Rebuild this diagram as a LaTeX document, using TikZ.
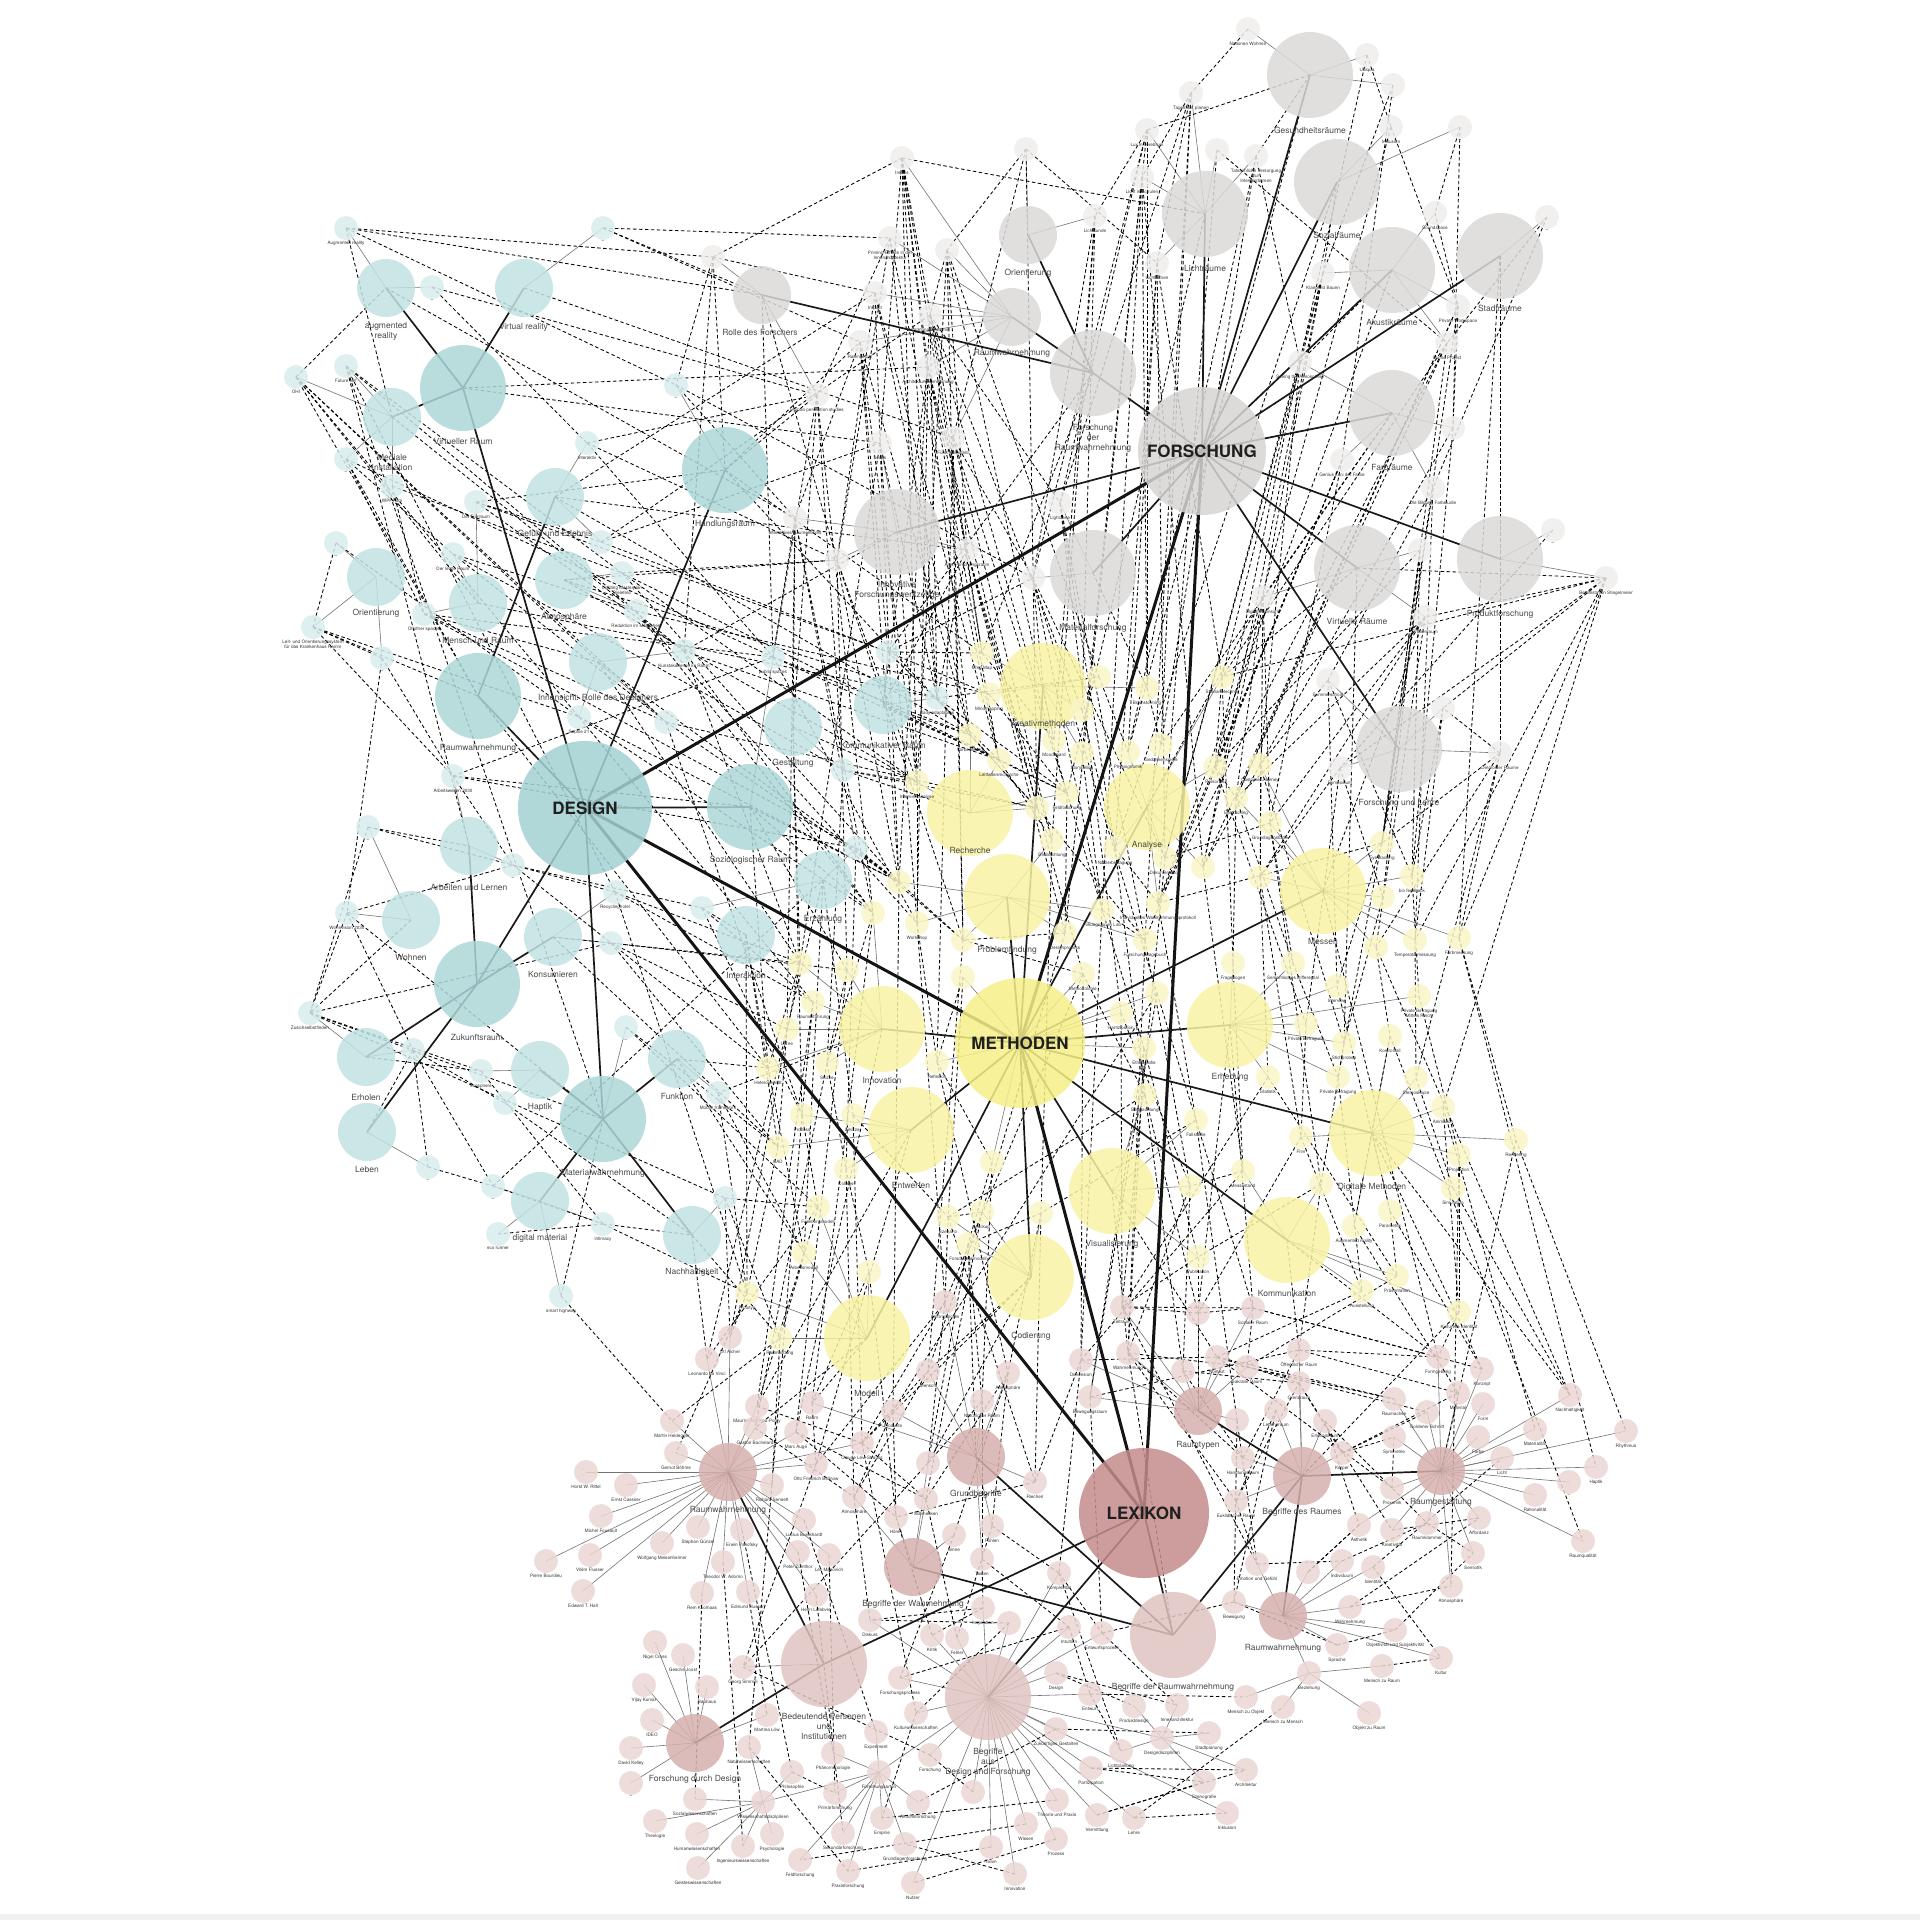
\documentclass[tikz,border=0pt]{standalone}
\usepackage{fontspec}
\setmainfont{TeX Gyre Heros}
\pgfdeclarelayer{paper}
\pgfdeclarelayer{bg}
\pgfsetlayers{paper,bg,main}
\definecolor{hubG}{HTML}{D8D5D4}
\definecolor{secG}{HTML}{DCDAD9}
\definecolor{smG}{HTML}{EFEEED}
\definecolor{hubT}{HTML}{A3D2D3}
\definecolor{secT}{HTML}{ADD7D8}
\definecolor{midT}{HTML}{C2E2E3}
\definecolor{smT}{HTML}{D9EDEE}
\definecolor{hubY}{HTML}{F6EF88}
\definecolor{secY}{HTML}{F8F3A4}
\definecolor{smY}{HTML}{FAF6C6}
\definecolor{hubP}{HTML}{C48D8B}
\definecolor{secP}{HTML}{D7B1AE}
\definecolor{bigP}{HTML}{E0C4C1}
\definecolor{smP}{HTML}{EBD6D4}
\definecolor{labgray}{HTML}{4A4A4A}
\tikzset{
  bub/.style={circle, inner sep=0pt, outer sep=0pt, draw=none, fill opacity=0.85},
  hubc/.style={bub, minimum size=#1},
  bigc/.style={bub, minimum size=86pt},
  midc/.style={bub, minimum size=58pt},
  lowc/.style={bub, minimum size=48pt},
  smc/.style={bub, minimum size=24pt},
  seclab/.style={font=\fontsize{8.5}{10}\selectfont, text=labgray, align=center, inner sep=0pt},
  smlab/.style={font=\fontsize{4.6}{5.4}\selectfont, text=black!80, align=center, inner sep=0.3pt, label distance=0.3pt},
  hublab/.style={font=\fontsize{17}{20}\selectfont\bfseries, text=black!88},
  dsh/.style={black, line width=0.85pt, dash pattern=on 3.5pt off 2.5pt},
  spoke/.style={black!55, line width=0.6pt},
  hubline/.style={black!92, line width=3pt},
  secline/.style={black!90, line width=1.7pt},
}
\def\greysmall{g1/1248/29/Nationen Wohnen/gGes, g2/1367/55/Ubiqua/gGes, g3/1393/85/–/gGes, g4/1391/127/Inklusion/gSoz, g5/1460/127/–/gSoz, g6/1256/156/Tatsächliche Versorgung\\zur\\Intensivräumen/gLic, g7/1217/150//gLic, g8/1435/213/Soundspace/gAku, g9/1547/217/–/gSta, g10/1323/273/Klangfeld Bauen/gAku, g11/1458/306/Private Workspace/gAku, g12/1447/343/Sound Project/gAku, g13/1300/362/Seeing the Atmosphere/gFar, g14/1453/428/–/gFar, g15/1342/460/Genius Loci der Farbe/gFar, g16/1191/93/Tageslicht planen/gLic, g17/1147/130/Lux in cerebrum/gLic, g18/1026/149//gOri, g19/1142/177/Licht in Schulen/gLic, g20/1095/216/Lichtkunde/gOri, g21/1157/263/Lichtfarben/gLic, g22/902/158/Impuls/gRaw, g23/890/238/Priming-Effekte in der\\Innenarchitektur/gRaw, g24/947/250//gRaw, g25/875/293/Impact/gRaw, g26/930/315/Ordnungssysteme/gRaw, g27/860/342/Raumgefühl/gRaw, g28/928/367/Architekturwahrnehmung/gRaw, g29/817/395/Human perception studies/gRol, g30/880/443/Loops/gInn, g31/953/438/Forschungsfeld/gRaw, g32/795/518/Interaktives Raumerlebnis/gInn, g33/837/560//gInn, g34/967/550/Aller Forschungsraum/gInn, g35/1060/503/Lightzone/gMat, g36/1033/578//gMat, g37/1433/488/Die Bildung Farbstudie/gFar, g38/1420/550//gVir, g39/1263/597/Digitale Sensorik/gVir, g40/1425/617/Probenraum/gVir, g41/1553/530/–/gPro, g42/1606/578/Bettenstation Stiegelmeier/gPro, g43/1328/680/Summerschool/gFuL, g44/1443/708/–/gFuL, g45/1500/753/Detmolder Räume/gFuL, g46/1340/768/Symposium/gFuL, g47/713/257//gRol}
\def\tealsmall{t1/346/228/Augmented reality/tAug, t2/603/228/–/tVR, t3/432/287/–/tAug, t4/296/377/OHI/tMed, t5/346/366/Future self/tMed, t6/346/459/–/tMed, t7/676/385/–/tHand, t8/587/443/Interaktiv/tGef, t9/392/486/WPF Film/tMed, t10/476/502/Der Fühlraum/tMen, t11/453/554/Der letzte Raum/tMen, t12/336/543/–/tOri, t13/601/542//tGef, t14/622/573/Lighting Masterplan\\Bielefeld/tAtm, t15/636/611/Reduktion im Möglichen/tAtm, t16/424/614/Of other spaces/tMen, t17/313/627/Leit- und Orientierungssystem\\für das Krankenhaus Hamm/tOri, t18/382/658/–/tOri, t19/684/651/Kunstakademie im Raum/tInn, t20/579/717/Sophie 21/tInn, t21/666/722//tInn, t22/453/776/Arbeitswelten 2030/tArb, t23/368/827/–/tWoh, t24/513/865/–/tArb, t25/615/892/Recyclinghotel/tKon, t26/347/913/Wohnvision 2030/tWoh, t27/611/943//tKon, t28/702/908//tX3, t29/310/1013/Zusichselbstfinden/tErh, t30/413/1050//tErh, t31/481/1071/ecosphere/tHap, t32/505/1103//tHap, t33/428/1167/–/tLeb, t34/626/1027/–/tMatw, t35/718/1093/Mobile framework/tFun, t36/493/1186/–/tDig, t37/498/1234/eco runner/tDig, t38/603/1224/intimacy/tDig, t39/561/1296/smart highway/tDig, t40/725/1198//tNach, t41/773/657/public spaces/tOef, t42/888/652//tX2, t43/937/698/Body adaptables/tX2, t44/843/770//tX1, t45/856/848//tX3}
\def\yellowsmall{y1/982/653/Mind Map/yKre, y2/1099/677//yKre, y3/1147/688/Brainstorming/yKre, y4/989/694/Mindmapping/yKre, y5/1082/710//yKre, y6/970/735/Vorbereitung/yRec, y7/1054/740/Moodboard/yKre, y8/1082/753/Storytelling/yKre, y9/999/760/Leitfadenrecherche/yRec, y10/1128/752/Physiognomik/yAna, y11/1161/745/Gedankenspiele/yAna, y12/1067/793/Feldforschung/yRec, y13/1037/808//yRec, y14/917/782/Interviewanalyse/yRec, y15/1052/840/Beobachtung/yPro, y16/1115/848/Nutzerbefragung/yAna, y17/1165/858/Dokumentation/yAna, y18/1203/867//yAna, y19/1102/910/Fokusgruppen Lab/yPro, y20/1065/933/Designprozess/yPro, y21/1158/903/Individuelles Wahrnehmungsprotokoll/yAna, y22/1145/940/Forschungstagebuch/yPro, y23/899/882//yPro, y24/873/913//yInn, y25/917/923/Workshop/yPro, y26/963/940//yPro, y27/1222/677/Szenariotechnik/yAna, y28/1260/765/Customer Journey/yMes, y29/1215/767/Personas/yAna, y30/1236/798/Eyetracking/yMes, y31/1270/823/Grundlagenstudie/yMes, y32/1260/877//yMes, y33/1382/843/Eye tracking/yMes, y34/1412/876/bio feedback/yMes, y35/1383/897//yMes, y36/1415/940/Temperaturmessung/yMes, y37/1459/938/Farbmessung/yMes, y38/1376/947//yMes, y39/1233/963/Fragebogen/yErh, y40/1293/963/Semantisches Differential/yErh, y41/1337/986/Interview/yErh, y42/1419/996/Private Befragung\\Mittels Reich/yErh, y43/1306/1024/Private Befragung/yErh, y44/1344/1043/Stichproben/yErh, y45/1390/1036/Kontrollfall/yDig, y46/1268/1077/Statistik/yErh, y47/1338/1077/Private Befragung/yErh, y48/1416/1078/Stereoskopie/yDig, y49/1443/1107/Animation/yDig, y50/1516/1140/Rendering/yDig, y51/1459/1155/Projektion/yDig, y52/1453/1188/Simulation/yDig, y53/1390/1211/Parametrik/yDig, y54/1354/1226/Augmented reality/yDig, y55/1301/1137/Film/yDig, y56/1243/1171/Messestand/yKom, y57/1321/1184//yKom, y58/1397/1276/Präsentation/yKom, y59/1362/1291/Ausstellung/yKom, y60/1459/1312/Kulturelle Identität/yKom, y61/1083/974/Methodologie/M, y62/1157/993//M, y63/1121/1013/Partizipation/M, y64/1144/1048/Ethnografie/M, y65/1145/1095/Beobachtung/yVis, y66/1196/1120/Fallstudie/yVis, y67/1190/1186//yVis, y68/1198/1257/Publikation/yVis, y69/813/1002/Raumerfahrung/yInn, y70/787/1029/Lerne/yInn, y71/768/1068/Heterogenität/yInn, y72/827/1063/Skizze/yInn, y73/937/1062/Reflexion/M, y74/802/1115/Prozess/yEnt, y75/853/1115/Skizze/yEnt, y76/778/1147/CAD/yEnt, y77/846/1169/Collage/yEnt, y78/992/1162//M, y79/818/1207/Funktionsmodell/yMod, y80/948/1217/Szenario/yCod, y81/982/1212/Mockup/yCod, y82/1041/1213//yCod, y83/968/1244/Forschungsmodell/yCod, y84/804/1253/Arbeitsmodell/yMod, y85/869/1272//yMod, y86/747/1293/Prototyp/yMod, y87/780/1338/Raumbildung/yMod, y88/800/963//yInn, y89/847/970//yInn, y90/963/977//M}
\def\pinksmall{p1/730/1337/Otl Aicher/pRaw1, p2/707/1359/Leonardo da Vinci/pRaw1, p3/672/1421/Martin Heidegger/pRaw1, p4/757/1406/Maurice Merleau-Ponty/pRaw1, p5/755/1428/Gaston Bachelard/pRaw1, p6/796/1432/Marc Augé/pRaw1, p7/676/1453/Gernot Böhme/pRaw1, p8/586/1472/Horst W. Rittel/pRaw1, p9/626/1485/Ernst Cassirer/pRaw1, p10/601/1516/Michel Foucault/pRaw1, p11/546/1561/Pierre Bourdieu/pRaw1, p12/590/1555/Vilém Flusser/pRaw1, p13/583/1591/Edward T. Hall/pRaw1, p14/662/1543/Wolfgang Meisenheimer/pRaw1, p15/698/1527/Stephan Günzel/pRaw1, p16/723/1562/Theodor W. Adorno/pRaw1, p17/702/1593/Rem Koolhaas/pRaw1, p18/748/1592/Edmund Husserl/pRaw1, p19/742/1530/Erwin Panofsky/pRaw1, p20/816/1464/Otto Friedrich Bollnow/pRaw1, p21/772/1485/Richard Sennett/pRaw1, p22/804/1520/Lucius Burckhardt/pRaw1, p23/798/1552/Peter Zumthor/pRaw1, p24/829/1555/Lev Manovich/pRaw1, p25/816/1595/Henri Lefebvre/pRaw1, p26/862/1443/Claude Lévi-Strauss/pRaw1, p27/854/1497/Atmosphäre/pBdW, p28/896/1517/Hören/pBdW, p29/926/1499/Schmecken/pBdW, p30/954/1535/Sinne/pBdW, p31/928/1463//pBdW, p32/870/1620/Diskurs/pBDF, p33/932/1635/Kritik/pBDF, p34/957/1638/Fehler/pBDF, p35/900/1678/Forschungsprozess/pBDF, p36/916/1713/Kulturwissenschaften/pBDF, p37/930/1755/Forschung/pBDF, pFa/879/1772/Forschungsarten/pBDF, p38/876/1732/Experiment/pFa, p39/833/1753/Phänomenologie/pFa, p40/835/1793/Primärforschung/pFa, p41/843/1833/Sekundärforschung/pFa, p42/882/1818/Empirie/pFa, p43/918/1802/Aktionsforschung/pFa, p44/905/1844/Grundlagenforschung/pFa, p45/800/1860/Feldforschung/pFa, p46/848/1871/Praxisforschung/pFa, p47/913/1883/Nutzer/pBDF, p48/743/1667/Georg Simmel/pBeP, p49/655/1642/Nigel Cross/pFdD, p50/683/1655/Gesche Joost/pFdD, p51/644/1685/Vijay Kumar/pFdD, p52/707/1687/Bauhaus/pFdD, p53/652/1720/IDEO/pFdD, p54/631/1748/David Kelley/pFdD, p55/631/1783/–/pFdD, p56/767/1715/Martina Löw/pFdD, pWd/763/1802/Wissenschaftsdisziplinen/pFa, p57/749/1747/Naturwissenschaften/pWd, p58/792/1772/Philosophie/pWd, p59/695/1799/Sozialwissenschaften/pWd, p60/655/1821/Theologie/pWd, p61/697/1834/Humanwissenschaften/pWd, p62/743/1846/Ingenieurswissenschaften/pWd, p63/772/1834/Psychologie/pWd, p64/698/1868/Geisteswissenschaften/pWd, p65/1035/1482/Riechen/pGru, p66/992/1526/Fühlen/pGru, p67/982/1559/Tasten/pGru, p68/1059/1573/Komplexität/pBDF, p69/983/1608/Inspiration/pBDF, p70/1009/1623//pBDF, p71/1069/1627/Intuition/pBDF, p72/1102/1633/Entwurfsprozess/pBDF, p73/1056/1673/Design/pBDF, p74/1090/1694/Entwurf/pBDF, p75/1056/1729/Zukünftiges Gestalten/pBDF, p76/1091/1768/Partizipation/pBDF, p77/1057/1800/Theorie und Praxis/pBDF, p78/1097/1815/Vermittlung/pBDF, p79/1134/1818/Lehre/pBDF, p80/1026/1824/Wissen/pBDF, p81/1056/1839/Prozess/pBDF, p82/991/1847/Team/pBDF, p83/1015/1874/Innovation/pBDF, p84/973/1792//pBDF, pDd/1162/1738/Designdisziplinen/pBDF, p85/1134/1706/Produktdesign/pDd, p86/1177/1705/Innenarchitektur/pDd, p87/1121/1751/Lichtplanung/pDd, p88/1209/1733/Stadtplanung/pDd, p89/1246/1770/Architektur/pDd, p90/1204/1782/Szenografie/pDd, p91/1227/1813/Inklusion/pBDF, pBz/1309/1673/Beziehung/pRaw2, p92/1246/1697/Mensch zu Objekt/pBz, p93/1283/1707/Mensch zu Mensch/pBz, p94/1369/1713/Objekt zu Raum/pBz, p95/1382/1666/Mensch zu Raum/pBz, p96/1337/1645/Sprache/pRaw2, p97/1395/1630/Objektivität und Subjektivität/pRaw2, p98/1350/1607/Wahrnehmung/pRaw2, p99/1234/1602/Bewegung/pRaw2, p100/1257/1564/Emotion und Gefühl/pRaw2, p101/1308/1572//pRaw2, p102/1373/1567/Identität/pRaw2, p103/1342/1561/Individuum/pRaw2, p104/1236/1501/Euklidischer Raum/pBdRa, p105/1243/1458/Handlungsraum/pBdRa, p106/1342/1453/Körper/pBdRa, p107/1392/1488/Proxemik/pRg, p108/1392/1530/Kreativität/pRg, p109/1359/1525/Ästhetik/pRg, p110/1427/1523/Raumklammer/pRg, p111/1438/1357/Formgebung/pRg, p112/1482/1369/Konzept/pRg, p113/1458/1393/Material/pRg, p114/1483/1404/Form/pRg, p115/1427/1412/Goldener Schnitt/pRg, p116/1394/1399/Raumachse/pRg, p117/1394/1437/Symmetrie/pRg, p118/1478/1437/Farbe/pRg, p119/1570/1395/Nachhaltigkeit/pRg, p120/1535/1429/Materialität/pRg, p121/1502/1458/Licht/pRg, p122/1626/1431/Rhythmus/pRg, p123/1596/1467/Haptik/pRg, p124/1569/1482/–/pRg, p125/1535/1495/Rationalität/pRg, p126/1583/1541/Raumqualität/pRg, p127/1479/1518/Affordanz/pRg, p128/1473/1553/Semiotik/pRg, p129/1451/1586/Atmosphäre/pRg, p130/1441/1658/Kultur/pRaw2, p131/1253/1308/Sozialer Raum/pRty, p132/1217/1357/Kontext/pRty, p133/1247/1367/Sakraler Raum/pRty, p134/1299/1350/Öffentlicher Raum/pBdRa, p135/1299/1383/Grenzraum/pBdRa, p136/1276/1410/Lebensraum/pBdRa, p137/1325/1421/Erlebnisraum/pBdRa, p138/1237/1420//pRty, p139/945/1302/Anthropologie/pGru, p140/928/1371/Mensch/pGru, p141/1008/1373/Atmosphäre/pGru, p142/982/1401/Natürlicher Raum/pGru, p143/893/1411/Produkte/pGru, p144/812/1403/Raum/pGru, p145/1122/1307/Zeitraum/pRty, p146/1128/1353/Wahrnehmung/pRty, p147/1081/1360/Dimension/pRty, p148/1090/1397/Bewegungsraum/pRty, p149/1183/1371//pRty, p150/1198/1313//pRty}
\def\dashpairs{g22/g28, g22/g31, g22/y1, g22/y6, g22/t43, g22/gLic, g23/g29, g23/y9, g24/g26, g24/y14, g25/y6, g25/g33, g26/g35, g26/y1, g27/g32, g27/t42, g28/y9, g28/g34, g29/tHand, g29/y24, g30/y23, g31/y12, g31/g36, g16/g19, g16/g21, g16/g35, g17/g20, g17/g36, g18/g24, g18/g21, g19/y3, g20/y7, g21/y10, g6/g13, g6/y11, g7/g12, g10/y17, g10/g39, g11/g14, g12/y27, g13/y29, g14/y28, g15/y31, g37/g43, g37/y33, g38/y34, g40/y30, g39/y18, g42/g44, g42/y36, g42/g46, g45/y37, g45/g44, g43/y28, g46/y35, g8/g11, g42/y37, g42/gVir, g42/g40, g42/y27, g45/y33, g45/y38, gSta/g45, gSta/y37, g1/g16, g2/g4, g3/g10, g4/g11, g5/g8, g9/g12, g47/g22, g47/g25, gGes/g17, gGes/g6, gSoz/g10, gAku/g13, gFar/g39, g34/y20, g36/y17, g35/y16, g33/y26, g31/y15, g28/y25, g27/y23, g26/y5, g24/y2, g19/y18, g21/y27, g39/y31, g40/y32, g38/y29, g11/y30, g12/y33, g14/y34, g15/y21, g18/g31, g20/g36, g24/g34, g17/g35, t1/gRol, t1/t7, t1/tMed, t2/g23, t2/gRol, t3/g29, t4/tAug, t4/tRaw, t4/tMen, t4/tInn, t4/t20, t5/t15, t5/tMatw, t5/t25, t5/tArb, t6/tRaw, t6/t16, t9/t14, t10/t19, t10/tHand, t11/t15, t12/t17, t17/t18, t17/tRaw, t17/t22, t16/tInn, t16/t41, t18/t26, t22/tOef, t22/t41, t23/t29, t23/tArb, t24/t28, t26/t29, t26/tMatw, t26/t30, t29/tMatw, t29/t40, t29/t31, t30/t36, t31/t38, t32/tNach, t36/t38, t37/t38, t38/tNach, t39/p3, t39/tMatw, t40/p1, t36/tX3, t33/t30, t7/g32, t8/g29, t13/g30, t14/g33, t19/gInn, t41/g32, t42/g36, t43/g34, tHand/g27, tGef/g25, tAtm/g33, tVRaum/g30, t14/y14, t15/y4, t19/y9, t20/y24, t21/y23, t25/y86, t27/y76, t28/y69, t35/y86, t40/y87, t41/y6, t42/y1, t43/y13, t44/y14, t45/y23, tOef/y71, tX1/y88, tX2/y9, tX3/y70, tKon/y76, tFun/y84, tNach/p2, t34/y79, tX4/y71, tX4/t28, tX1/g32, tX2/g34, t19/y88, t20/y69, t21/y74, t15/y24, t14/y23, tAtm/y14, tGef/y6, tMen/t43, t10/t42, t11/t44, t16/t45, t22/t45, t24/y71, t25/y88, t27/y89, t41/y25, t42/y9, t43/y12, t44/y13, t45/y26, g32/y24, g33/y14, g30/t43, g29/t41, tX1/y74, tX2/y12, tX3/y75, tX4/y76, tOef/y89, t13/t42, t8/t41, g47/t7, g47/tHand, y1/y7, y2/y10, y3/y11, y4/y12, y5/y16, y6/y13, y8/y19, y9/y15, y12/y20, y13/y22, y14/y25, y16/y21, y17/y31, y18/y28, y19/y22, y20/y26, y21/y33, y23/y26, y24/y72, y25/y73, y26/y61, y27/y29, y28/y32, y29/y30, y30/y39, y31/y40, y32/y46, y33/y41, y34/y42, y35/y44, y36/y48, y37/y50, y38/y45, y39/y56, y40/y47, y41/y53, y42/y51, y43/y55, y44/y57, y45/y54, y46/y58, y47/y59, y48/y52, y49/y60, y51/y60, y53/y58, y55/y59, y56/y67, y57/y68, y61/y65, y62/y66, y63/y67, y64/y68, y65/y80, y66/y82, y69/y74, y70/y76, y71/y84, y72/y77, y73/y78, y74/y79, y75/y80, y76/y86, y77/y85, y78/y83, y79/y87, y80/y81, y82/y83, y88/y71, y89/y72, y90/y73, y79/p2, y84/p4, y85/p144, y86/p1, y87/p3, y80/p139, y81/p140, y82/p141, y83/p142, y68/p145, y67/p146, y66/p131, y60/p111, y59/p132, y58/p133, y57/p134, y56/p147, y53/p112, y52/p119, y50/p122, y49/p120, y54/p113, y55/p150, y46/p145, y65/p149, y64/p148, y61/p139, y62/p143, yCod/p26, yMod/p5, y38/p119, y37/p123, y45/p126, y51/p129, y86/p7, y87/p21, p139/p26, p140/p27, p141/p30, p142/p31, p143/p28, p144/p20, p145/p100, p146/p104, p147/p68, p148/p72, p149/p105, p150/p131, p131/p111, p132/p107, p133/p116, p134/p113, p135/p108, p136/p99, p137/p110, p138/p100, p131/p133, p132/p135, p106/p115, p106/p117, p105/p134, p104/p135, p100/p103, p99/p96, p98/p127, p97/p128, p102/p121, p101/p109, p103/p110, p69/p33, p70/p32, p71/p35, p72/p86, p73/p85, p74/p87, p76/p90, p78/p89, p79/p91, p80/p45, p81/p47, p82/p46, p83/p44, p84/p37, p75/p43, p77/p42, p27/p32, p28/p33, p29/p34, p30/p35, p31/p48, p26/p36, p22/p38, p23/p39, p24/p40, p25/p41, p20/p48, p21/p57, p26/p29, p6/p28, p19/p58, p18/p56, p17/p59, p16/p62, p48/p37, p57/p46, p58/p40, p36/p42, p65/p28, p66/p34, p67/p71, p68/p87, p141/p66, p142/p67, gFdR/y1, gFdR/t42, gInn/y14, gMat/y3, gVir/y27, gFuL/y33, tHand/y6, tInn/y23, tOef/y24, tRaw/y71, yRec/t44, yKre/g36, yAna/g39, yMes/g40, yErh/p131, yDig/p119, yKom/p111, yVis/p146, yCod/p140, yMod/p144, yEnt/p4, yInn/t35, pGru/y83, pRty/y68, pBdRa/y60, pRg/y50, pBdR/p146}
\def\dashmore{g16/y22, g17/y20, g19/y19, g21/y16, g7/y21, gLic/y12, g24/y26, g18/y13, g20/y15, g26/y23, g31/y73, g34/y61, g36/y62, g35/y63, g30/y88, g33/y89, g32/y70, g27/y14, g25/g30, g23/g33, g22/g30, g47/t19, g29/tX1, gRol/t41, gRol/g33, g28/tX2, g26/t43, g38/y35, g40/y38, g39/y32, g43/y41, g46/y43, g44/y34, g12/y30, g10/y18, g13/y17, g15/y22, g37/y36, g11/y33, gFar/y11, gAku/y21, gSoz/y16, gGes/y10, g4/y29, g2/g13, g3/g15, g5/g14, gVir/y44, gFuL/y47, g45/y48, g42/y49, g41/g46, g9/g37, y23/p143, y24/p144, y25/p139, y26/p140, y73/p141, y78/p142, y61/p147, y62/p148, y63/p145, y64/p146, y65/p150, y66/p138, y67/p149, y88/p1, y89/p6, y69/p4, y70/p2, y72/p5, y74/p21, y75/p26, y77/p27, y85/p28, y83/p31, y81/p29, y80/p65, y82/p65, y90/y80, yInn/p6, yEnt/p20, yCod/p31, yVis/p132, yKom/p134, yErh/p150, yDig/p112, yMes/p111, y17/p145, y22/p146, y19/p147, y20/y81, y15/y82, y12/y64, y16/y65, y21/y66, y22/y67, y18/y56, y32/y55, y31/y57, y29/y43, y28/y44, y27/y39, y30/y40, t35/y84, t40/y79, t38/y86, t34/y76, tFun/y71, tNach/y87, t28/y74, t27/y70, tKon/y88, t25/y69, tX4/y86, tX3/y84, t45/y77, t44/y72, tOef/y23, tX1/y14, tX2/y6, t43/y2, t42/y4, t41/y9, t21/y13, t20/y23, tInn/y88, t19/y24, t15/y25, t14/y12, tAtm/t43, tGef/g34, tHand/y1, t7/g36, t8/g33, t13/g26, tVRaum/g28, tMed/t19, t6/t41, t4/t21, t5/t14, tAug/g32, tVR/g31, t3/t8, t2/g27, t1/g47, t17/t20, t12/t20, t18/t22, t23/t25, t26/t24, t29/t27, t30/t32, t33/t36, tWoh/t29, tErh/t31, tLeb/t30, t22/t24, t16/t21, t11/t21, t10/t13, t9/t16, t6/t11, p4/p26, p5/p27, p6/p29, p20/p139, p26/p140, p27/p143, p29/p141, p31/p139, p65/p147, p66/p68, p67/p69, p68/p72, p69/p32, p70/p36, p71/p74, p72/p99, p73/p86, p74/p92, p75/p88, p76/p89, p78/p90, p79/p93, p104/p100, p105/p146, p106/p113, p107/p117, p108/p127, p109/p101, p110/p128, p131/p112, p132/p116, p133/p115, p134/p111, p135/p106, p136/p104, p137/p109, p138/p99, p145/p131, p146/p133, p147/p132, p148/p134, p149/p135, p150/p145, p96/p97, p98/p129, p102/p130, p95/p130, g22/y14, g23/t43, g25/y9, g27/y6, g29/t44, g30/y25, g32/t45, g33/y23, g34/y15, g36/y19, g35/y22, g31/y26, g28/y13, g26/y12, g24/y7, g20/y5, g19/y8, g21/y17, g6/y10, g16/y11, g17/y3, g13/y28, g15/y29, g10/y27, g39/y30, g38/y33, g40/y31, g43/y34, g46/y32, g44/y36, g12/y21, g11/y18}
\begin{document}
\begin{tikzpicture}[x=1pt,y=-1pt]
\useasboundingbox (0,0) rectangle (1920,1920);
\begin{pgfonlayer}{paper}
\fill[white] (0,0) rectangle (1920,1920);
\fill[black!6] (0,1914) rectangle (1920,1920);
\end{pgfonlayer}
% hubs
\node[hubc=128pt, fill=hubG] (F) at (1202,451) {};
\node[hubc=134pt, fill=hubT] (D) at (585,808) {};
\node[hubc=130pt, fill=hubY] (M) at (1020,1043) {};
\node[hubc=130pt, fill=hubP] (L) at (1144,1513) {};
% grey secondaries
\foreach \n/\x/\y/\s in {gGes/1310/75/bigc, gSoz/1337/182/bigc, gAku/1392/270/bigc, gSta/1500/256/bigc, gFar/1392/413/bigc, gLic/1205/214/bigc, gOri/1028/235/midc, gRol/762/295/midc, gRaw/1012/317/midc, gFdR/1093/373/bigc, gInn/897/532/bigc, gMat/1093/573/bigc, gVir/1357/568/bigc, gPro/1500/559/bigc, gFuL/1399/749/bigc}
  {\node[\s, fill=secG] (\n) at (\x,\y) {};}
% teal secondaries
\foreach \n/\x/\y/\s/\c in {tAug/386/288/midc/midT, tVR/524/288/midc/midT, tVRaum/463/388/bigc/secT, tMed/392/417/midc/midT, tHand/725/470/bigc/secT, tGef/555/497/midc/midT, tOri/376/577/midc/midT, tMen/478/603/midc/midT, tAtm/564/580/midc/midT, tInn/598/662/midc/midT, tRaw/478/696/bigc/secT, tArb/469/846/midc/midT, tWoh/411/920/midc/midT, tKon/553/937/midc/midT, tZuk/477/984/bigc/secT, tErh/366/1057/midc/midT, tLeb/367/1132/midc/midT, tHap/540/1070/midc/midT, tMatw/603/1119/bigc/secT, tFun/677/1059/midc/midT, tDig/540/1201/midc/midT, tNach/692/1235/midc/midT, tOef/750/807/bigc/secT, tX1/793/727/midc/midT, tX2/883/705/midc/midT, tX3/823/880/midc/midT, tX4/746/935/midc/midT}
  {\node[\s, fill=\c] (\n) at (\x,\y) {};}
% yellow secondaries
\foreach \n/\x/\y in {yKre/1043/686, yRec/970/813, yAna/1147/807, yPro/1007/897, yMes/1323/891, yErh/1230/1025, yDig/1372/1133, yKom/1287/1240, yInn/882/1029, yEnt/911/1130, yVis/1112/1191, yCod/1031/1277, yMod/867/1338}
  {\node[bigc, fill=secY] (\n) at (\x,\y) {};}
% pink secondaries
\foreach \n/\x/\y/\s/\c in {pRaw1/728/1472/midc/secP, pBdW/913/1567/midc/secP, pBeP/824/1664/bigc/bigP, pFdD/695/1743/midc/secP, pBDF/988/1697/bigc/bigP, pBdR/1173/1635/bigc/bigP, pRaw2/1283/1616/lowc/secP, pBdRa/1302/1476/midc/secP, pRg/1441/1471/lowc/secP, pGru/976/1457/midc/secP, pRty/1198/1411/lowc/secP}
  {\node[\s, fill=\c] (\n) at (\x,\y) {};}
% small nodes
\foreach \n/\x/\y/\t/\p in \greysmall {\node[smc, fill=smG, label={[smlab]below:\t}] (\n) at (\x,\y) {};}
\foreach \n/\x/\y/\t/\p in \tealsmall {\node[smc, fill=smT, label={[smlab]below:\t}] (\n) at (\x,\y) {};}
\foreach \n/\x/\y/\t/\p in \yellowsmall {\node[smc, fill=smY, label={[smlab]below:\t}] (\n) at (\x,\y) {};}
\foreach \n/\x/\y/\t/\p in \pinksmall {\node[smc, fill=smP, label={[smlab]below:\t}] (\n) at (\x,\y) {};}
% connectors on background layer
\begin{pgfonlayer}{bg}
\foreach \n/\x/\y/\t/\p in \greysmall {\draw[spoke] (\p.center) -- (\n.center);}
\foreach \n/\x/\y/\t/\p in \tealsmall {\draw[spoke] (\p.center) -- (\n.center);}
\foreach \n/\x/\y/\t/\p in \yellowsmall {\draw[spoke] (\p.center) -- (\n.center);}
\foreach \n/\x/\y/\t/\p in \pinksmall {\draw[spoke] (\p.center) -- (\n.center);}
\foreach \a/\b in \dashpairs {\draw[dsh] (\a.center) -- (\b.center);}
\foreach \a/\b in \dashmore {\draw[dsh] (\a.center) -- (\b.center);}
\foreach \a/\b in {D/F, D/M, D/L, M/F, F/L, M/L}
  {\draw[hubline] (\a.center) -- (\b.center);}
\foreach \a/\b in {F/gGes, F/gSoz, F/gAku, F/gSta, F/gLic, F/gFar, F/gPro, F/gVir, F/gFuL, F/gFdR, F/gInn, F/gMat, gRol/gFdR, gOri/gFdR, gRaw/gFdR, D/tVRaum, D/tHand, D/tRaw, D/tZuk, D/tMatw, D/tOef, tVR/tVRaum, tAug/tVRaum, tMed/tVRaum, tZuk/tErh, tZuk/tLeb, tZuk/tKon, tArb/tZuk, tMatw/tHap, tMatw/tDig, tMatw/tNach, tMatw/tFun, tRaw/tGef, M/yKre, M/yAna, M/yInn, M/yEnt, M/yPro, M/yMes, M/yErh, M/yDig, M/yKom, M/yVis, M/yCod, M/yMod, L/pBeP, L/pBDF, L/pBdR, pFdD/pBeP, pRaw1/pBeP, pGru/pBdR, pBdW/pBdR, pBdR/pBdRa, pRaw2/pBdRa, pRty/pBdRa, pBdRa/pRg}
  {\draw[secline] (\a.center) -- (\b.center);}
\end{pgfonlayer}
% secondary labels
\foreach \n/\x/\y/\t in {gGes/1310/130/Gesundheitsräume, gSoz/1337/235/Sozialräume, gAku/1392/322/Akustikräume, gSta/1500/308/Stadträume, gFar/1392/467/Farbräume, gLic/1205/268/Lichträume, gOri/1028/273/Orientierung, gRol/760/332/Rolle des Forschers, gRaw/1012/353/Raumwahrnehmung, gFdR/1093/438/{Forschung\\der\\Raumwahrnehmung}, gInn/897/590/{Innovative\\Forschungswerkzeuge}, gMat/1093/628/Materialforschung, gVir/1357/621/Virtuelle Räume, gPro/1500/614/Produktforschung, gFuL/1399/803/Forschung und Lehre, tAug/386/331/{augmented\\reality}, tVR/524/327/virtual reality, tVRaum/463/441/Virtueller Raum, tMed/392/462/{Mediale\\Installation}, tHand/725/524/Handlungsraum, tGef/555/533/Gefühl und Erlebnis, tOri/376/613/Orientierung, tMen/478/640/Mensch und Raum, tAtm/564/617/Atmosphäre, tInn/598/698/Innensicht: Rolle des Designers, tRaw/478/748/Raumwahrnehmung, tArb/469/887/Arbeiten und Lernen, tWoh/411/957/Wohnen, tKon/553/974/Konsumieren, tZuk/477/1037/Zukunftsraum, tErh/366/1097/Erholen, tLeb/367/1169/Leben, tHap/540/1107/Haptik, tMatw/603/1173/Materialwahrnehmung, tFun/677/1096/Funktion, tDig/540/1238/digital material, tNach/692/1272/Nachhaltigkeit, tOef/750/860/Soziologischer Raum, tX1/793/763/Gestaltung, tX2/883/745/Kommunikativer Raum, tX3/823/919/Erzählung, tX4/746/975/Interaktion, yKre/1043/723/Kreativmethoden, yRec/970/850/Recherche, yAna/1147/845/Analyse, yPro/1007/950/Problemfindung, yMes/1323/941/Messen, yErh/1230/1077/Erhebung, yDig/1372/1187/Digitale Methoden, yKom/1287/1293/Kommunikation, yInn/882/1080/Innovation, yEnt/911/1185/Entwerfen, yVis/1112/1244/Visualisierung, yCod/1031/1336/Codierung, yMod/867/1393/Modell, pRaw1/728/1510/Raumwahrnehmung, pBdW/913/1604/Begriffe der Wahrnehmung, pBeP/824/1726/{Bedeutende Personen\\und\\Institutionen}, pFdD/695/1779/Forschung durch Design, pBDF/988/1762/{Begriffe\\aus\\Design und Forschung}, pBdR/1173/1687/Begriffe der Raumwahrnehmung, pRaw2/1283/1648/Raumwahrnehmung, pBdRa/1302/1512/Begriffe des Raumes, pRg/1441/1502/Raumgestaltung, pGru/976/1494/Grundbegriffe, pRty/1198/1445/Raumtypen}
  {\node[seclab] (\n-t) at (\x,\y) {\t};}
% hub labels
\node[hublab] (F-t) at (F) {FORSCHUNG};
\node[hublab] (D-t) at (D) {DESIGN};
\node[hublab] (M-t) at (M) {METHODEN};
\node[hublab] (L-t) at (L) {LEXIKON};
\end{tikzpicture}
\end{document}
